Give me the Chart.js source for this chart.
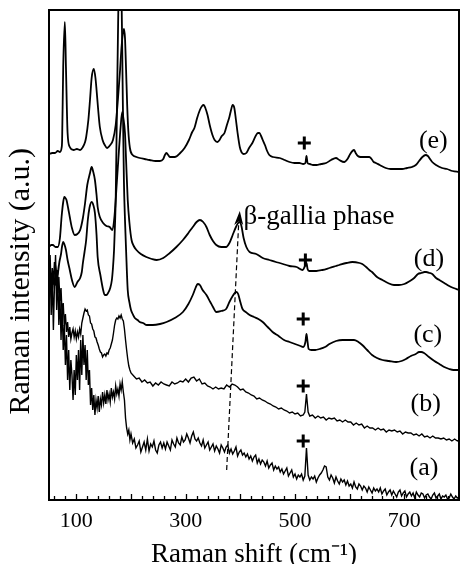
<!DOCTYPE html>
<html>
<head>
<meta charset="utf-8">
<script src="https://cdn.jsdelivr.net/npm/chart.js@4/dist/chart.umd.min.js"></script>
<style>
  html, body { margin: 0; padding: 0; background: #fff; }
  #wrap { width: 460px; height: 564px; }
</style>
</head>
<body>
<div id="wrap"><canvas id="c" width="460" height="564"></canvas></div>
<script>
// ---------------- data (Raman shift in cm^-1, intensity in a.u.) ----------------
const xTickLabels = [100, 300, 500, 700];
const curveNames = ['(a)', '(b)', '(c)', '(d)', '(e)'];

const eShift = [50,56,61,66,70,73,74,76,79,81,84,88,95,101,107,112,116,118,122,125,128,132,135,137,140,143,148,152,156,162,167,172,176,180,183,187,189,191,193,195,198,203,210,216,225,234,245,253,259,262,265,268,271,280,290,298,306,312,316,321,326,330,333,336,340,344,349,353,358,362,366,371,376,380,383,386,389,392,395,399,402,406,411,416,422,428,432,435,438,441,445,449,453,460,472,481,490,499,508,515,519,521,523,527,533,539,548,557,566,575,581,590,596,601,605,608,611,615,620,628,636,640,644,648,655,666,675,685,696,705,714,721,727,733,739,743,747,751,758,769,778,788,800];
const eInt = [346,347,347,349,348,352,360,433,478,433,367,353,350,351,350,353,358,363,380,400,422,431,422,410,390,373,360,355,352,355,360,375,400,430,455,471,462,430,395,370,352,345,343,342,341,340,339,339,341,345,347,345,343,343,347,352,360,368,372,382,390,394,395,392,385,375,365,360,358,360,364,367,376,383,390,395,392,380,367,353,348,346,347,352,357,364,367,367,364,360,355,349,345,343,342,340,338,337,337,336,337,344,337,336,335,335,336,337,340,342,340,338,341,346,349,350,347,344,343,343,343,341,338,337,335,332,331,331,331,332,333,335,339,343,345,344,341,338,335,332,331,329,328];

const dShift = [50,54,57,62,66,70,73,76,78,80,82,85,88,92,97,102,107,112,116,120,125,128,131,134,137,139,143,149,155,161,166,170,174,178,181,184,186,189,191,194,197,201,205,210,218,228,238,247,259,271,283,295,305,313,320,326,332,338,344,350,356,365,374,380,386,392,396,399,402,406,411,417,429,441,453,465,472,490,503,514,519,521,523,526,539,550,563,575,581,594,605,618,623,630,636,641,650,660,670,681,690,700,710,718,725,731,737,740,746,751,758,764,773,782,790,800];
const dInt = [253,255,255,253,253,262,283,298,303,302,300,292,283,272,265,266,270,282,297,315,327,333,328,320,305,293,283,277,274,273,270,285,317,350,373,388,382,367,340,300,278,260,254,250,246,243,241,240,242,247,253,260,267,273,278,280,278,273,265,259,255,253,253,257,265,273,277,278,274,262,253,248,246,242,240,238,237,234,233,230,235,237,231,229,229,230,232,234,235,237,238,237,236,233,230,228,223,220,217,215,215,216,219,222,226,227,228,228,227,226,222,220,217,214,212,210];

const cShift = [50,53,55,58,61,64,66,69,72,74,76,78,81,84,88,92,97,102,107,110,112,115,118,121,124,128,131,134,137,139,144,149,152,155,158,162,165,167,169,171,172,174,176,178,180,182,184,185,187,189,191,194,197,200,204,207,212,216,222,229,240,253,265,280,295,305,313,318,322,326,331,338,345,350,356,365,374,380,386,390,393,396,400,404,410,417,425,433,441,450,459,470,480,490,500,510,515,519,521,523,525,530,537,545,555,563,575,587,597,608,616,623,632,641,650,660,672,685,695,703,712,721,727,731,736,745,755,764,773,782,790,800];
const cInt = [200,212,208,218,215,224,226,238,246,254,258,256,250,240,230,220,213,218,222,228,237,248,260,280,292,298,295,287,265,243,225,210,205,205,207,212,220,232,250,280,300,380,460,530,560,530,450,400,320,280,250,210,198,190,185,182,180,178,177,175,175,176,178,182,188,196,205,212,216,215,210,205,198,193,188,189,191,198,204,207,208,206,198,191,188,185,183,181,178,173,168,164,160,158,156,154,153,158,166,158,151,150,150,151,153,156,159,160,160,160,158,155,150,145,142,140,139,138,139,141,144,146,148,148,147,143,139,136,133,131,130,130];

const bShift = [50,52,54,56,58,60,62,64,66,68,70,72,74,76,78,80,82,84,86,88,90,92,94,96,98,100,102,104,106,108,110,112,114,116,118,120,122,124,126,128,130,132,134,136,138,140,142,144,146,148,150,152,154,156,158,160,162,164,166,168,170,172,174,176,178,180,182,184,186,188,190,192,194,196,198,200,
205,210,215,220,225,230,235,240,245,250,255,260,265,270,275,280,285,290,295,300,305,310,315,320,325,330,335,340,345,350,355,360,365,370,375,380,385,390,395,400,405,410,415,420,425,430,435,440,445,450,455,460,465,470,475,480,485,490,495,500,505,510,515,
518,521,524,
527,532,537,542,547,552,557,562,567,572,577,582,587,592,597,602,607,612,617,622,627,632,637,642,647,652,657,662,667,672,677,682,687,692,697,702,707,712,717,722,727,732,737,742,747,752,757,762,767,772,777,782,787,792,797,800];
const bInt = [215,245,208,232,218,238,222,229,207,223,199,212,184,197,174,186,168,178,163,173,161,167,171,163,169,161,168,163,171,166,177,182,187,191,189,190,185,184,177,176,171,169,163,162,158,155,151,148,147,143,145,146,144,147,146,150,152,156,160,167,175,180,182,181,184,182,185,181,179,171,160,150,141,134,130,127,
124,121,122,118,120,117,118,114,117,115,118,116,115,114,118,116,117,119,118,121,118,122,123,119,121,116,117,114,113,111,113,111,112,111,115,113,116,115,113,110,111,108,107,105,104,101,102,100,99,97,96,94,93,91,92,90,89,87,88,86,87,84,85,
88,106,88,
84,85,82,84,82,83,80,82,81,82,79,80,78,80,78,78,75,77,75,76,72,74,72,72,70,72,70,71,68,70,69,70,68,69,66,68,67,67,65,66,64,66,63,64,62,64,62,62,61,62,60,61,59,61,59,60];

const aShift = [50,52,54,56,58,60,62,64,66,68,70,72,74,76,78,80,82,84,86,88,90,92,94,96,98,100,102,104,106,108,110,112,114,116,118,120,122,124,126,128,130,132,134,136,138,140,142,144,146,148,150,152,154,156,158,160,162,164,166,168,170,172,174,176,178,180,182,184,186,188,190,192,194,196,198,200,
203,206,209,212,215,218,221,224,227,230,233,236,239,242,245,248,251,254,257,260,263,266,269,272,275,278,281,284,287,290,293,296,299,302,305,308,311,314,317,320,323,326,329,332,335,338,341,344,347,350,353,356,359,362,365,368,371,374,377,380,383,386,389,392,395,398,401,404,407,410,413,416,419,422,425,428,431,434,437,440,443,446,449,452,455,458,461,464,467,470,473,476,479,482,485,488,491,494,497,500,503,506,509,512,515,518,521,524,527,530,533,536,539,542,545,548,551,554,557,560,563,566,569,572,575,578,581,584,587,590,593,596,599,602,605,608,611,614,617,620,623,626,629,632,635,638,641,644,647,650,653,656,659,662,665,668,671,674,677,680,683,686,689,692,695,698,701,704,707,710,713,716,719,722,725,728,731,734,737,740,743,746,749,752,755,758,761,764,767,770,773,776,779,782,785,788,791,794,797,800];
const aInt = [205,240,185,225,170,215,245,190,230,175,205,160,195,150,175,135,165,120,150,110,140,125,100,130,105,145,120,150,110,160,125,165,135,155,120,150,115,130,95,112,90,105,85,100,92,104,88,101,95,108,97,105,96,110,100,106,98,112,103,108,101,114,106,111,104,116,110,118,108,100,82,72,66,70,60,66,
57,61,52,55,59,48,53,58,50,61,
49,56,53,59,50,47,55,58,52,57,
51,58,54,50,60,56,53,62,57,55,
63,58,60,66,62,57,64,68,61,59,
62,57,54,60,52,55,58,50,53,56,
49,54,51,47,55,52,48,53,55,47,
51,46,49,53,44,48,50,45,47,43,
46,41,44,39,43,45,37,41,36,40,
38,34,39,32,35,37,30,34,31,33,
28,31,26,29,32,24,27,30,23,26,
21,25,23,26,20,24,52,25,20,23,
21,24,18,22,25,27,30,34,33,23,
20,25,22,17,23,19,16,21,18,20,
15,19,14,16,12,18,13,11,16,14,
10,14,12,8,13,10,7,12,9,11,
8,12,6,9,11,5,8,10,5,9,
6,3,8,10,4,7,9,3,6,8,
4,7,2,8,5,3,7,6,2,5,
6,3,1,5,7,2,4,6,1,4,
3,5,1,2,6,3,1,4,2,3];

// ---------------- chart ----------------
const SERIF = '"Liberation Serif", "Times New Roman", serif';
Chart.defaults.font.family = SERIF;
Chart.defaults.color = '#000';

const pts = (xs, ys) => xs.map((x, i) => ({ x: x, y: ys[i] }));
const series = [
  { label: curveNames[0], data: pts(aShift, aInt), smooth: false },
  { label: curveNames[1], data: pts(bShift, bInt), smooth: false },
  { label: curveNames[2], data: pts(cShift, cInt), smooth: true },
  { label: curveNames[3], data: pts(dShift, dInt), smooth: true },
  { label: curveNames[4], data: pts(eShift, eInt), smooth: true }
];

// annotation positions given in data coordinates
const curveLabelPos = [[736, 32], [739, 96], [743, 165], [745, 241], [753, 359]];
const plusPos = [[515, 59], [515, 114], [515, 181], [519, 240], [517, 357]];

const deco = {
  id: 'deco',
  afterDatasetsDraw(chart) {
    const { ctx, chartArea: a, scales: { x, y } } = chart;
    ctx.save();
    // frame
    ctx.strokeStyle = '#000';
    ctx.lineWidth = 2;
    ctx.strokeRect(a.left, a.top, a.right - a.left, a.bottom - a.top);
    // inward ticks on the x axis
    ctx.lineWidth = 1.3;
    for (let v = 60; v <= 800; v += 20) {
      const px = Math.round(x.getPixelForValue(v)) + 0.5;
      const len = (v % 100 === 0) ? 6 : 4;
      ctx.beginPath();
      ctx.moveTo(px, a.bottom);
      ctx.lineTo(px, a.bottom - len);
      ctx.stroke();
    }
    // curve labels
    ctx.fillStyle = '#000';
    ctx.textAlign = 'center';
    ctx.textBaseline = 'middle';
    ctx.font = '26px ' + SERIF;
    curveLabelPos.forEach((p, i) => {
      ctx.fillText(curveNames[i], x.getPixelForValue(p[0]), y.getPixelForValue(p[1]));
    });
    // Si markers (+)
    ctx.lineWidth = 3;
    plusPos.forEach(p => {
      const cx = x.getPixelForValue(p[0]), cy = y.getPixelForValue(p[1]);
      ctx.beginPath();
      ctx.moveTo(cx - 6.5, cy); ctx.lineTo(cx + 6.5, cy);
      ctx.moveTo(cx, cy - 6.5); ctx.lineTo(cx, cy + 6.5);
      ctx.stroke();
    });
    // dashed arrow for the beta-gallia phase
    const x0 = x.getPixelForValue(375), y0 = y.getPixelForValue(30);
    const x1 = x.getPixelForValue(397), y1 = y.getPixelForValue(277);
    const xt = x.getPixelForValue(399), yt = y.getPixelForValue(289);
    ctx.lineWidth = 1.2;
    ctx.setLineDash([5, 3]);
    ctx.beginPath();
    ctx.moveTo(x0, y0);
    ctx.lineTo(x1, y1);
    ctx.stroke();
    ctx.setLineDash([]);
    ctx.beginPath();
    ctx.moveTo(xt, yt);
    ctx.lineTo(x1 - 4.5, y1 + 2);
    ctx.lineTo(x1 + 0.5, y1 - 2);
    ctx.lineTo(x1 + 4.5, y1 + 2);
    ctx.closePath();
    ctx.fill();
    ctx.textAlign = 'left';
    ctx.textBaseline = 'alphabetic';
    ctx.font = '27px ' + SERIF;
    ctx.fillText('\u03B2-gallia phase', x.getPixelForValue(406), y.getPixelForValue(276));
    ctx.restore();
  }
};

new Chart(document.getElementById('c'), {
  type: 'line',
  data: {
    datasets: series.map(s => ({
      label: s.label,
      data: s.data,
      borderColor: '#000',
      borderWidth: s.smooth ? 1.8 : 1.4,
      pointRadius: 0,
      fill: false,
      cubicInterpolationMode: s.smooth ? 'monotone' : 'default',
      tension: 0
    }))
  },
  options: {
    responsive: false,
    animation: false,
    devicePixelRatio: 1,
    parsing: false,
    layout: { padding: { top: 10, right: 1, left: 0, bottom: 0 } },
    plugins: { legend: { display: false }, tooltip: { enabled: false } },
    scales: {
      x: {
        type: 'linear',
        min: 50,
        max: 800,
        grid: { display: false, drawTicks: false },
        border: { display: false },
        afterBuildTicks: s => { s.ticks = xTickLabels.map(v => ({ value: v })); },
        ticks: { font: { size: 22 }, color: '#000', padding: 8, maxRotation: 0, autoSkip: false },
        title: {
          display: true,
          text: 'Raman shift (cm\u207B\u00B9)',
          font: { size: 27, lineHeight: 0.7 },
          color: '#000',
          padding: { top: 0, bottom: 0 }
        },
        afterFit: s => { s.height = 64; }
      },
      y: {
        type: 'linear',
        min: 0,
        max: 490,
        grid: { display: false, drawTicks: false },
        border: { display: false },
        ticks: { display: false },
        title: {
          display: true,
          text: 'Raman intensity (a.u.)       ',
          font: { size: 30 },
          color: '#000',
          padding: { top: 3, bottom: 0 }
        },
        afterFit: s => { s.width = 49; }
      }
    }
  },
  plugins: [deco]
});
</script>
</body>
</html>
